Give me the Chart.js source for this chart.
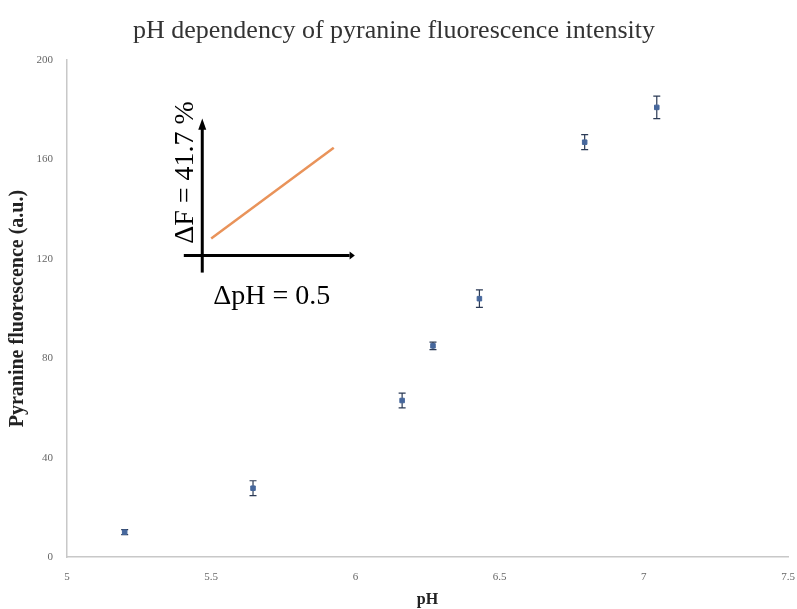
<!DOCTYPE html>
<html>
<head>
<meta charset="utf-8">
<script src="https://cdn.jsdelivr.net/npm/chart.js@4.4.1/dist/chart.umd.min.js"></script>
<style>
  html, body { margin: 0; padding: 0; background: #fff; }
  #wrap { width: 797px; height: 609px; }
</style>
</head>
<body>
<div id="wrap"><canvas id="chart"></canvas></div>
<script>
const phValues = [5.2, 5.645, 6.162, 6.269, 6.43, 6.795, 7.045];
const fluorescence = [10, 27.7, 63, 85, 104, 167, 181];
const errors = [1, 3, 3, 1.5, 3.5, 3, 4.5];
const xTicks = [5, 5.5, 6, 6.5, 7, 7.5];
const yTicks = [0, 40, 80, 120, 160, 200];

const SERIF = "'Liberation Serif', 'DejaVu Serif', serif";

// error bars drawn under the markers
const errorBars = {
    id: "errorBars",
    beforeDatasetsDraw(chart) {
        const { ctx, scales } = chart;
        ctx.save();
        ctx.strokeStyle = "#2b3a55";
        ctx.lineWidth = 1.2;
        phValues.forEach((ph, i) => {
            const x = scales.x.getPixelForValue(ph);
            const top = scales.y.getPixelForValue(fluorescence[i] + errors[i]);
            const bottom = scales.y.getPixelForValue(fluorescence[i] - errors[i]);
            ctx.beginPath();
            ctx.moveTo(x, top);
            ctx.lineTo(x, bottom);
            ctx.moveTo(x - 3.5, top);
            ctx.lineTo(x + 3.5, top);
            ctx.moveTo(x - 3.5, bottom);
            ctx.lineTo(x + 3.5, bottom);
            ctx.stroke();
        });
        ctx.restore();
    },
};

// the small sensitivity inset, placed in data units
const inset = {
    id: "inset",
    afterDatasetsDraw(chart) {
        const { ctx, scales } = chart;
        const px = (v) => scales.x.getPixelForValue(v);
        const py = (v) => scales.y.getPixelForValue(v);

        ctx.save();
        ctx.strokeStyle = "#000";
        ctx.fillStyle = "#000";
        ctx.lineWidth = 3;

        // vertical arrow
        const ax = px(5.469);
        ctx.beginPath();
        ctx.moveTo(ax, py(114.5));
        ctx.lineTo(ax, py(174));
        ctx.stroke();
        ctx.beginPath();
        ctx.moveTo(ax, py(176.5));
        ctx.lineTo(ax - 4, py(172));
        ctx.lineTo(ax + 4, py(172));
        ctx.closePath();
        ctx.fill();

        // horizontal arrow
        const ay = py(121.4);
        ctx.beginPath();
        ctx.moveTo(px(5.405), ay);
        ctx.lineTo(px(5.98), ay);
        ctx.stroke();
        ctx.beginPath();
        ctx.moveTo(px(5.998), ay);
        ctx.lineTo(px(5.98), ay - 4);
        ctx.lineTo(px(5.98), ay + 4);
        ctx.closePath();
        ctx.fill();

        // orange response line
        ctx.strokeStyle = "#e9935a";
        ctx.lineWidth = 2.5;
        ctx.beginPath();
        ctx.moveTo(px(5.5), py(128.2));
        ctx.lineTo(px(5.925), py(164.8));
        ctx.stroke();

        ctx.font = "28px " + SERIF;
        ctx.textAlign = "center";
        ctx.textBaseline = "middle";
        ctx.fillText("\u0394pH = 0.5", px(5.71), py(105));

        ctx.save();
        ctx.translate(px(5.413), py(154.8));
        ctx.rotate(-Math.PI / 2);
        ctx.fillText("\u0394F = 41.7 %", 0, 0);
        ctx.restore();

        ctx.restore();
    },
};

new Chart(document.getElementById("chart"), {
    type: "scatter",
    data: {
        datasets: [
            {
                label: "Pyranine",
                data: phValues.map((ph, i) => ({ x: ph, y: fluorescence[i] })),
                backgroundColor: "#46679c",
                borderColor: "#46679c",
                pointStyle: "rect",
                pointRadius: 3.2,
                pointHoverRadius: 3.2,
            },
        ],
    },
    options: {
        responsive: true,
        maintainAspectRatio: false,
        animation: false,
        layout: { padding: { left: 0, right: 9, top: 0, bottom: 0 } },
        plugins: {
            legend: { display: false },
            tooltip: { enabled: false },
            title: {
                display: true,
                text: "pH dependency of pyranine fluorescence intensity",
                color: "#333",
                font: { family: SERIF, size: 26, weight: "normal" },
                padding: { top: 16, bottom: 13 },
            },
        },
        scales: {
            x: {
                type: "linear",
                min: 5,
                max: 7.5,
                afterBuildTicks: (scale) => {
                    scale.ticks = xTicks.map((v) => ({ value: v }));
                },
                afterFit: (scale) => {
                    scale.height = 52;
                    scale.paddingLeft = 0;
                    scale.paddingRight = 0;
                },
                grid: { display: false, drawTicks: false },
                border: { color: "#c8c8c8", width: 1.5 },
                ticks: {
                    color: "#666",
                    font: { family: SERIF, size: 11 },
                    padding: 14,
                    callback: (v) => String(v),
                },
                title: {
                    display: true,
                    text: "pH",
                    color: "#222",
                    font: { family: SERIF, size: 16, weight: "bold" },
                    padding: { top: 0, bottom: 0 },
                },
            },
            y: {
                min: 0,
                max: 200,
                afterBuildTicks: (scale) => {
                    scale.ticks = yTicks.map((v) => ({ value: v }));
                },
                afterFit: (scale) => {
                    scale.width = 67;
                    scale.paddingTop = 0;
                    scale.paddingBottom = 0;
                },
                grid: { display: false, drawTicks: false },
                border: { color: "#c8c8c8", width: 1.5 },
                ticks: {
                    color: "#666",
                    font: { family: SERIF, size: 11 },
                    padding: 14,
                },
                title: {
                    display: true,
                    text: "Pyranine fluorescence (a.u.)",
                    color: "#222",
                    font: { family: SERIF, size: 20, weight: "bold" },
                    padding: { top: 6, bottom: 0 },
                },
            },
        },
    },
    plugins: [errorBars, inset],
});
</script>
</body>
</html>
